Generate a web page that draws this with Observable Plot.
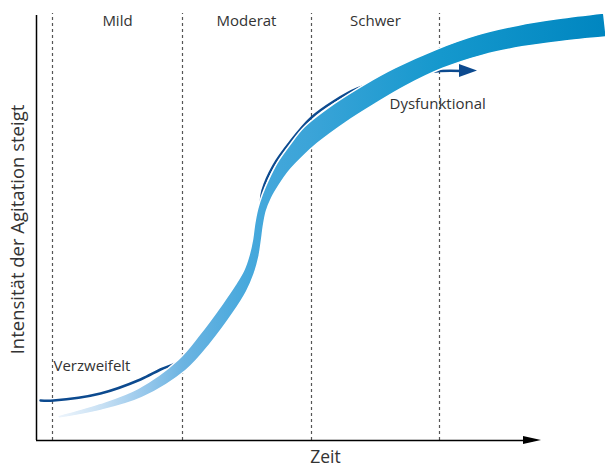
<!DOCTYPE html>
<html><head><meta charset="utf-8">
<script src="https://cdn.jsdelivr.net/npm/d3@7"></script>
<script src="https://cdn.jsdelivr.net/npm/@observablehq/plot@0.6"></script>
<style>
body{margin:0;background:#fff;}
#chart svg{display:block;font-family:"Open Sans",sans-serif;}
</style>
</head><body><div id="chart"></div>
<script>
// Conceptual chart: x = Zeit (time units), y = Intensität (intensity units)
const phaseLabels = ["Mild", "Moderat", "Schwer"];
const phaseCenters = [81, 210, 339];
const phaseBounds = [16, 146, 275, 403];

// Ribbon: centre line and half thickness
const ribbonX = [22, 64, 104, 146, 169, 192, 205, 213, 218, 221, 223, 226, 231, 238, 247, 260, 275, 304, 334, 364, 403, 444, 484, 524, 569];
const ribbonY = [23, 33, 47, 75, 101, 132, 152, 168, 184, 200, 215, 230, 244, 258, 273, 289, 305, 327, 346, 363, 381, 395, 404, 410, 415];
const ribbonHalf = [1.5, 3.5, 5, 6.5, 7, 7, 6.5, 5.5, 5, 4.5, 4.5, 4.5, 5, 6, 7.2, 8.7, 10.5, 11, 11, 10.5, 10, 10.5, 11, 11.5, 12];

// Dysfunktional path (thin dark line)
const pathX = [4, 17, 64, 104, 124, 146, 169, 194, 209, 216, 220, 222, 224, 226, 237, 254, 275, 297, 321, 364, 404, 426];
const pathY = [40, 40, 47, 61, 71, 81, 107, 139, 160, 178, 200, 218, 235, 250, 275, 299, 323, 339, 352, 364, 369.5, 369.5];
const pathArrow = [{x: 423, y1: 376, y2: 363}, {x: 441, y1: 369.5, y2: 369.5}];

// Axis extents
const xAxisEnd = 505, yAxisEnd = 425;
const xAxisArrow = [{x: 487, y1: -4, y2: 4}, {x: 505, y1: 0, y2: 0}];

// ribbon edges from centre line and normals (x and y scales share the same unit length)
const ribbon = ribbonX.map((x, i) => {
  const a = Math.max(0, i - 1), b = Math.min(ribbonX.length - 1, i + 1);
  const tx = ribbonX[b] - ribbonX[a], ty = ribbonY[b] - ribbonY[a];
  const len = Math.hypot(tx, ty);
  const nx = -ty / len, ny = tx / len;
  const h = ribbonHalf[i];
  return {ux: x + nx * h, uy: ribbonY[i] + ny * h, lx: x - nx * h, ly: ribbonY[i] - ny * h};
});
const path = pathX.map((d, i) => ({x: d, y: pathY[i]}));

const textColor = "#333";
const plot = Plot.plot({
  width: 605, height: 468,
  marginLeft: 36, marginRight: 0, marginTop: 0, marginBottom: 28,
  x: {domain: [0, 569], axis: null},
  y: {domain: [0, 440], axis: null},
  marks: [
    Plot.ruleX(phaseBounds, {y1: 0, y2: 427, stroke: "#555", strokeWidth: 1.2, strokeDasharray: "3,3"}),
    Plot.line(path, {x: "x", y: "y", stroke: "#0c4a8f", strokeWidth: 2.5, curve: "catmull-rom"}),
    Plot.areaY(pathArrow, {x: "x", y1: "y1", y2: "y2", fill: "#0c4a8f"}),
    Plot.area(ribbon, {x1: "ux", y1: "uy", x2: "lx", y2: "ly", fill: "url(#ribbonGrad)", stroke: "white", strokeWidth: 1.5, curve: "catmull-rom"}),
    Plot.ruleX([0], {y1: 0, y2: yAxisEnd, stroke: "black", strokeWidth: 1.5}),
    Plot.ruleY([0], {x1: 0, x2: xAxisEnd - 8, stroke: "black", strokeWidth: 1.5}),
    Plot.areaY(xAxisArrow, {x: "x", y1: "y1", y2: "y2", fill: "black"}),
    Plot.text(phaseLabels, {x: (d, i) => phaseCenters[i], y: 419, text: d => d, fill: textColor, fontSize: 15}),
    Plot.text(["Verzweifelt"], {x: 17, y: 74, text: d => d, textAnchor: "start", fill: textColor, fontSize: 15}),
    Plot.text(["Dysfunktional"], {x: 353, y: 336, text: d => d, textAnchor: "start", fill: textColor, fontSize: 15}),
    Plot.text(["Intensität der Agitation steigt"], {x: -18, y: 211, text: d => d, rotate: -90, fill: textColor, fontSize: 18.5}),
    Plot.text(["Zeit"], {x: 289, y: -17, text: d => d, fill: textColor, fontSize: 17.5})
  ]
});

// gradient definition for the ribbon
const xs = plot.scale("x");
const svg = d3.select(plot);
const grad = svg.insert("defs", ":first-child").append("linearGradient")
  .attr("id", "ribbonGrad").attr("gradientUnits", "userSpaceOnUse")
  .attr("x1", xs.apply(22)).attr("x2", xs.apply(569)).attr("y1", 0).attr("y2", 0);
const stops = [[0, "#eef5fc"], [0.077, "#c9e1f4"], [0.15, "#9ccaec"], [0.227, "#6cb4e2"], [0.35, "#46a8dc"], [0.46, "#3ba4d8"], [0.7, "#1598cd"], [1, "#0086c0"]];
stops.forEach(([o, c]) => grad.append("stop").attr("offset", o).attr("stop-color", c));

document.getElementById("chart").append(plot);
</script>
</body></html>
